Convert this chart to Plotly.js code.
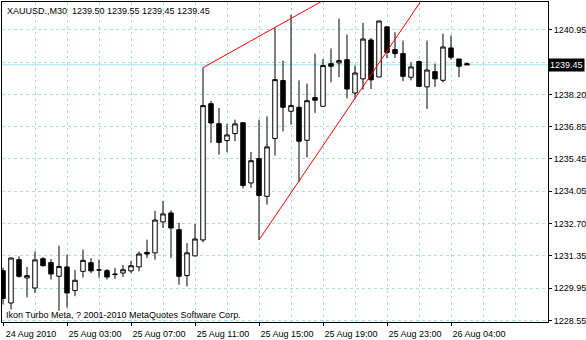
<!DOCTYPE html>
<html>
<head>
<meta charset="utf-8">
<script src="https://cdn.plot.ly/plotly-3.0.1.min.js"></script>
<style>html,body{margin:0;padding:0;background:#fff;}#chart{width:586px;height:340px;}</style>
</head>
<body>
<div id="chart"></div>
<script>
// ---- data (XAUUSD, M30) ----
const symbolLabel = 'XAUUSD.,M30';
const footerText = 'Ikon Turbo Meta, ? 2001-2010 MetaQuotes Software Corp.';

const opens = [1230.67,1229.29,1231.14,1230.36,1229.93,1231.18,1231.02,1230.43,1230.83,1229.82,
  1230.64,1231.01,1230.70,1230.67,1230.50,1230.57,1230.66,1230.83,1231.45,1231.43,
  1232.75,1233.13,1232.42,1230.46,1231.30,1231.98,1237.79,1236.94,1236.22,1236.52,
  1236.98,1234.41,1235.45,1233.84,1236.31,1238.78,1237.47,1237.64,1236.23,1238.05,
  1237.68,1239.50,1239.53,1239.67,1238.25,1238.85,1240.51,1238.93,1241.07,1240.10,
  1239.93,1238.92,1239.59,1238.51,1239.16,1238.79,1240.17,1239.70,1239.50];
const highs = [1230.80,1231.22,1231.28,1230.83,1231.49,1231.24,1231.17,1231.74,1231.35,1230.70,
  1231.57,1231.20,1231.14,1230.74,1230.79,1230.91,1231.08,1231.49,1231.99,1233.22,
  1233.64,1233.24,1232.71,1231.85,1232.66,1239.33,1237.91,1237.61,1236.93,1237.11,
  1237.00,1235.73,1237.11,1237.25,1241.02,1239.63,1241.59,1238.79,1238.65,1239.93,
  1239.70,1240.14,1241.42,1240.74,1239.42,1241.24,1240.60,1241.32,1241.07,1240.84,
  1240.48,1239.56,1239.64,1240.48,1239.50,1240.78,1240.70,1239.70,1239.55];
const lows = [1229.22,1229.01,1230.37,1229.53,1229.72,1230.85,1230.29,1228.96,1229.09,1229.58,
  1230.38,1230.56,1230.37,1230.29,1230.32,1230.40,1230.57,1230.64,1231.21,1231.14,
  1232.49,1231.21,1230.07,1230.00,1231.29,1231.88,1236.12,1235.62,1235.72,1236.19,
  1234.18,1234.20,1231.98,1233.49,1235.58,1236.61,1236.90,1234.45,1235.50,1237.40,
  1237.68,1238.70,1238.92,1238.02,1238.02,1238.39,1238.42,1238.93,1239.74,1239.74,
  1238.75,1238.79,1238.53,1237.57,1238.51,1238.70,1239.67,1238.92,1239.45];
const closes = [1229.48,1231.21,1230.43,1230.46,1231.13,1230.88,1230.53,1230.85,1229.72,1230.26,
  1231.11,1230.66,1230.70,1230.40,1230.52,1230.71,1230.88,1231.38,1231.38,1232.83,
  1233.09,1232.49,1230.43,1231.43,1232.02,1237.71,1236.97,1236.14,1236.46,1236.93,
  1234.30,1235.36,1233.88,1235.95,1238.82,1237.64,1237.71,1236.19,1237.92,1237.94,
  1239.42,1239.39,1239.63,1238.42,1239.10,1240.55,1238.81,1241.32,1239.98,1239.93,
  1238.96,1239.36,1238.53,1239.23,1238.85,1240.21,1239.77,1239.39,1239.45];

// time axis labels (bar index -> label)
const xTickBars = [0, 8, 16, 24, 32, 40, 48, 56];
const xTickLabels = ['24 Aug 2010','25 Aug 03:00','25 Aug 07:00','25 Aug 11:00',
  '25 Aug 15:00','25 Aug 19:00','25 Aug 23:00','26 Aug 04:00'];
const xGridBars = [4, 12, 20, 28, 36, 44, 52, 60, 64, 68];

// price axis labels
const yTickVals = [1228.55,1229.93,1231.30,1232.68,1234.06,1235.44,1236.82,1238.19,1239.57,1240.95];
const yTickLabels = ['1228.55','1229.95','1231.35','1232.70','1234.05','1235.45','1236.85','1238.20','','1240.95'];

// trend lines (bar index, price)
const upperLineBars = [25, 40];
const upperLinePrices = [1239.33, 1242.19];
const lowerLineBars = [32, 53];
const lowerLinePrices = [1231.98, 1242.55];

// ---- chart ----
const barIdx = opens.map((_, i) => i);
const last = opens.length - 1;
const gridCol = '#a6e2e2';
const font = {family: 'Liberation Sans, Arial, sans-serif', size: 9, color: '#000'};

const traces = [
  {
    type: 'candlestick', x: barIdx, open: opens, high: highs, low: lows, close: closes,
    increasing: {line: {color: '#000', width: 1}, fillcolor: '#fff'},
    decreasing: {line: {color: '#000', width: 1}, fillcolor: '#000'},
    whiskerwidth: 0, showlegend: false, hoverinfo: 'skip'
  },
  {type: 'scatter', mode: 'lines', x: upperLineBars, y: upperLinePrices,
   line: {color: '#ff0000', width: 1}, showlegend: false, hoverinfo: 'skip'},
  {type: 'scatter', mode: 'lines', x: lowerLineBars, y: lowerLinePrices,
   line: {color: '#ff0000', width: 1}, showlegend: false, hoverinfo: 'skip'}
];

const layout = {
  width: 586, height: 340,
  margin: {l: 2, r: 38, t: 2, b: 18, pad: 0},
  paper_bgcolor: '#fff', plot_bgcolor: '#fff',
  font: font,
  showlegend: false,
  hovermode: false,
  boxgap: 0.2,
  xaxis: {
    range: [-0.125, 68.125], fixedrange: true,
    rangeslider: {visible: false},
    tickmode: 'array', tickvals: xTickBars, ticktext: xTickLabels,
    ticks: 'outside', ticklen: 3, tickcolor: '#000', tickwidth: 1,
    ticklabelshift: 28, ticklabelstandoff: 0,
    showgrid: true, gridcolor: gridCol, griddash: '3px,3px', gridwidth: 1,
    minor: {tickmode: 'array', tickvals: xGridBars, showgrid: true, gridcolor: gridCol,
            griddash: '3px,3px', gridwidth: 1, ticks: ''},
    showline: true, linecolor: '#000', linewidth: 1, mirror: true,
    zeroline: false, tickfont: font
  },
  yaxis: {
    range: [1228.48, 1242.13], fixedrange: true, side: 'right',
    tickmode: 'array', tickvals: yTickVals, ticktext: yTickLabels,
    ticks: 'outside', ticklen: 3, tickcolor: '#000', tickwidth: 1,
    ticklabelstandoff: 0,
    showgrid: true, gridcolor: gridCol, griddash: '3px,3px', gridwidth: 1,
    showline: true, linecolor: '#000', linewidth: 1, mirror: true,
    zeroline: false, tickfont: font
  },
  shapes: [
    {type: 'line', xref: 'paper', x0: 0, x1: 1, yref: 'y', y0: closes[last], y1: closes[last],
     line: {color: gridCol, width: 1}, layer: 'below'}
  ],
  annotations: [
    {xref: 'paper', yref: 'paper', x: 0, y: 1, xanchor: 'left', yanchor: 'top',
     xshift: 3, yshift: -2, showarrow: false, font: font,
     text: symbolLabel + '&nbsp;&nbsp;' + [opens[last], highs[last], lows[last], closes[last]].map(v => v.toFixed(2)).join(' ')},
    {xref: 'paper', yref: 'paper', x: 0, y: 0, xanchor: 'left', yanchor: 'bottom',
     xshift: 2, yshift: 0, showarrow: false, font: font, text: footerText},
    {xref: 'paper', yref: 'y', x: 1, y: closes[last], xanchor: 'left', yanchor: 'middle',
     xshift: 0, showarrow: false, bgcolor: '#000', borderpad: 1,
     font: {family: font.family, size: 9, color: '#fff'}, text: closes[last].toFixed(2)}
  ]
};

Plotly.newPlot('chart', traces, layout, {staticPlot: true, displayModeBar: false});
</script>
</body>
</html>
